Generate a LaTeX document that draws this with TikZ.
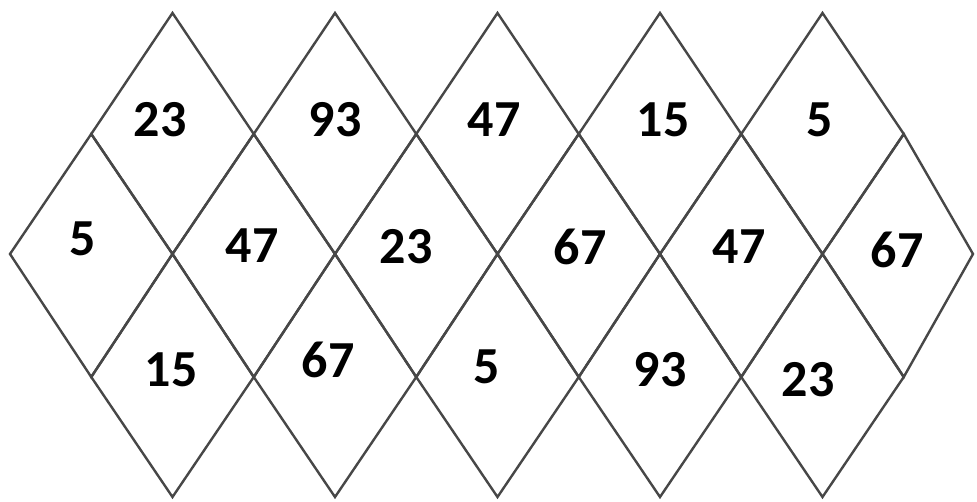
\documentclass[tikz,border=0pt]{standalone}
\usepackage{fontspec}
\setmainfont{Carlito}
\begin{document}
\begin{tikzpicture}[x=1pt,y=-1pt,
  edge/.style={draw=black!72,line width=2.4pt,line join=miter},
  num/.style={inner sep=0pt,font=\fontsize{52}{54}\selectfont\bfseries,text=black}]
\useasboundingbox[fill=white] (0,0) rectangle (977,502);
\foreach \k in {0,...,11}{
  \foreach \j/\y in {0/13,1/134,2/254,3/377,4/497}{
    \coordinate (p\k-\j) at ({10+81.25*\k},\y);
  }
}
\coordinate (p12-2) at (973,254);
% top row
\foreach \i in {0,...,4}{
  \pgfmathtruncatemacro{\a}{2*\i+1}
  \pgfmathtruncatemacro{\b}{2*\i+2}
  \pgfmathtruncatemacro{\c}{2*\i+3}
  \draw[edge] (p\b-0) -- (p\c-1) -- (p\b-2) -- (p\a-1) -- cycle;
  \draw[edge] (p\b-2) -- (p\c-3) -- (p\b-4) -- (p\a-3) -- cycle;
}
% middle row
\foreach \i in {0,...,5}{
  \pgfmathtruncatemacro{\a}{2*\i}
  \pgfmathtruncatemacro{\b}{2*\i+1}
  \pgfmathtruncatemacro{\c}{2*\i+2}
  \draw[edge] (p\a-2) -- (p\b-1) -- (p\c-2) -- (p\b-3) -- cycle;
}
% numbers
\node[num] (t1) at (160,120) {23};
\node[num] (t2) at (335,120) {93};
\node[num] (t3) at (494,120) {47};
\node[num] (t4) at (663,120) {15};
\node[num] (t5) at (820,120) {5};
\node[num] (m1) at (83,239) {5};
\node[num] (m2) at (252,246) {47};
\node[num] (m3) at (406,247) {23};
\node[num] (m4) at (580,247) {67};
\node[num] (m5) at (739,247) {47};
\node[num] (m6) at (897,250) {67};
\node[num] (b1) at (171,370) {15};
\node[num] (b2) at (328,360) {67};
\node[num] (b3) at (487,367) {5};
\node[num] (b4) at (660,370) {93};
\node[num] (b5) at (808,380) {23};
\end{tikzpicture}
\end{document}
